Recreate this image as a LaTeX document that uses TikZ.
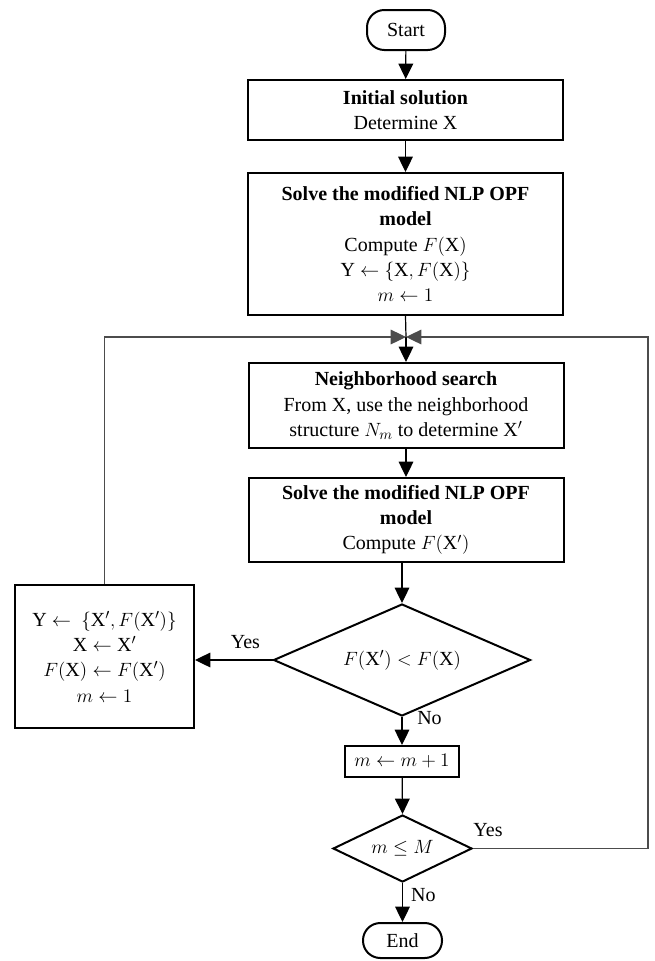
\documentclass[tikz,border=0pt]{standalone}
\usepackage{fontspec}
\setmainfont{Liberation Serif}
\usetikzlibrary{shapes.geometric,arrows.meta,calc}
\begin{document}
\begin{tikzpicture}[x=0.75pt,y=-0.75pt,
  every node/.style={font=\fontsize{15}{19}\selectfont},
  box/.style={draw,line width=1.5pt,rectangle,align=center,inner sep=2pt},
  term/.style={draw,line width=1.5pt,rectangle,rounded corners=13pt,align=center,inner sep=2pt},
  dia/.style={draw,line width=1.5pt,diamond,align=center,inner sep=0pt},
  tip/.style={-{Triangle[width=11pt,length=11.5pt]}},
  arr/.style={line width=0.9pt,tip},
  loopline/.style={line width=0.9pt,draw=black!70,tip},
  lbl/.style={inner sep=0pt}]
\useasboundingbox (0,0) rectangle (654,961);
% nodes
\node[term,minimum width=58.5pt,minimum height=30pt] (start) at (406,30) {Start};
\node[box,minimum width=236.25pt,minimum height=45pt] (init) at (405.5,110)
  {\textbf{Initial solution}\\Determine X};
\node[box,minimum width=236.25pt,minimum height=106.5pt] (solve1) at (405.5,244)
  {\textbf{Solve the modified NLP OPF}\\\textbf{model}\\Compute $F(\mathrm{X})$\\Υ $\leftarrow\{\mathrm{X},F(\mathrm{X})\}$\\$m\leftarrow 1$};
\coordinate (j) at (406,337);
\coordinate (r) at (648,337);
\node[box,minimum width=236.25pt,minimum height=63.75pt] (nbr) at (406,405.5)
  {\textbf{Neighborhood search}\\From X, use the neighborhood\\structure $N_m$ to determine X$'$};
\node[box,minimum width=236.25pt,minimum height=63pt] (solve2) at (406,520)
  {\textbf{Solve the modified NLP OPF}\\\textbf{model}\\Compute $F(\mathrm{X}')$};
\node[dia,minimum width=192.75pt,minimum height=84pt,aspect=2.3] (dec1) at (402,660)
  {$F(\mathrm{X}')<F(\mathrm{X})$};
\node[box,minimum width=134.25pt,minimum height=107.25pt] (upd) at (104.5,656.5)
  {Υ $\leftarrow\ \{\mathrm{X}',F(\mathrm{X}')\}$\\$\mathrm{X}\leftarrow\mathrm{X}'$\\$F(\mathrm{X})\leftarrow F(\mathrm{X}')$\\$m\leftarrow 1$};
\node[box,minimum width=85.5pt,minimum height=23.25pt,inner sep=1pt] (inc) at (402,761.5)
  {$m\leftarrow m+1$};
\node[dia,minimum width=104.25pt,minimum height=50.25pt,aspect=2.07] (dec2) at (402.5,848.5)
  {$m\le M$};
\node[term,minimum width=59.25pt,minimum height=26.25pt] (end) at (402.5,940.5) {End};
% connectors
\draw[arr] (start) -- (init);
\draw[arr] (init) -- (solve1);
\draw[line width=0.9pt] (solve1.south) -- (j);
\draw[arr] (j) -- (nbr.north);
\draw[arr] (nbr) -- (solve2);
\draw[arr] (solve2.south -| dec1.north) -- (dec1.north);
\draw[arr] (dec1.west) -- (dec1.west -| upd.east)
  node[lbl,pos=0.35,above=8pt] {Yes};
\draw[arr] (dec1.south) -- (inc.north)
  node[lbl,pos=0.03,right=11pt] {No};
\draw[arr] (inc) -- (dec2.north);
\draw[arr] (dec2.south) -- (end.north)
  node[lbl,pos=0.3,right=6pt] {No};
\draw[loopline] (upd.north) |- (j);
\draw[loopline] (dec2.east) -- (dec2.east -| r) |- (j);
\node[lbl] (yes2) at (488,830) {Yes};
\end{tikzpicture}
\end{document}
